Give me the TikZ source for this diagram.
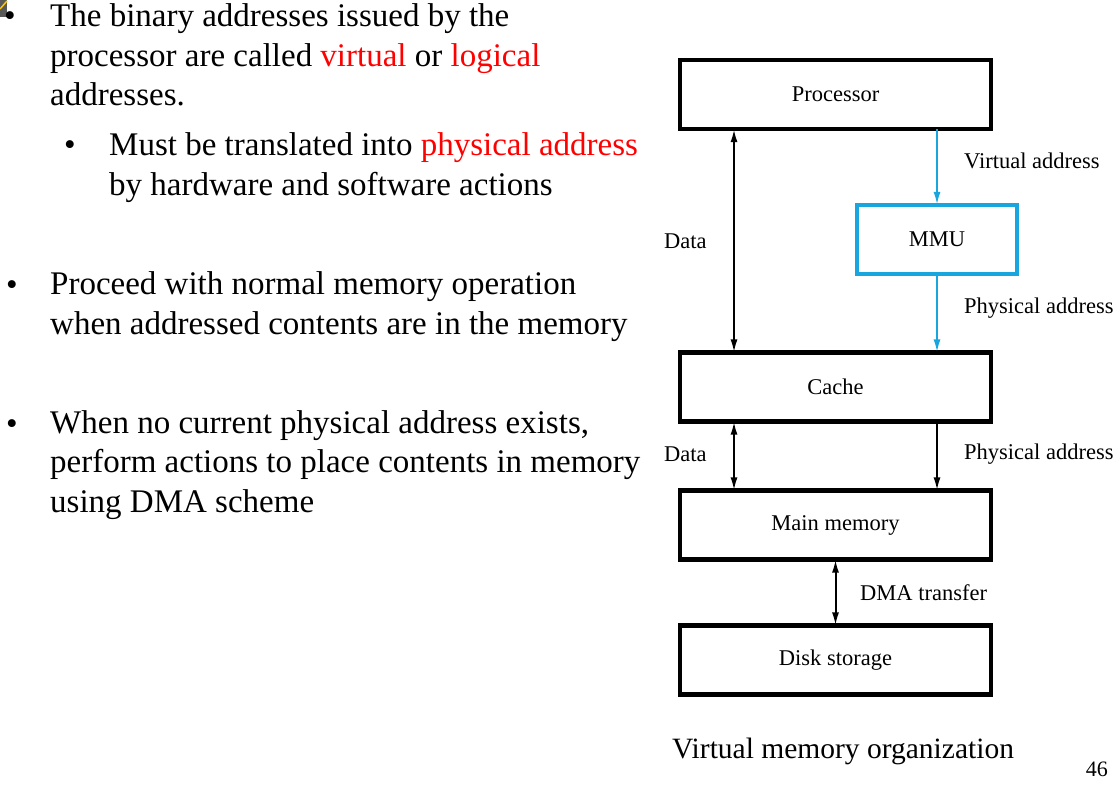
\documentclass[tikz,border=0pt]{standalone}
\usepackage{fontspec}
\setmainfont{Liberation Serif}
\usetikzlibrary{arrows.meta}
\definecolor{mmublue}{RGB}{25,165,222}
\definecolor{slidered}{RGB}{255,0,0}
\tikzset{
  box/.style={draw=black, line width=4.2pt, minimum width=311pt, minimum height=69pt, inner sep=0pt, font=\fontsize{22.5}{26}\selectfont},
  bluebox/.style={box, draw=mmublue, minimum width=160pt},
  conn/.style={line width=2pt, -{Latex[length=13pt,width=7pt]}},
  bconn/.style={line width=2pt, {Latex[length=13pt,width=7pt]}-{Latex[length=13pt,width=7pt]}},
  lbl/.style={anchor=west, inner sep=0pt, font=\fontsize{22.5}{26}\selectfont},
  para/.style={anchor=base west, inner sep=0pt, align=left, font=\fontsize{33}{39.5}\selectfont},
  bul/.style={anchor=base, inner sep=0pt, font=\fontsize{33}{39.5}\selectfont},
}
\begin{document}
\begin{tikzpicture}[x=1pt,y=-1pt]
\useasboundingbox (0,0) rectangle (1118,789);
% top-left artifact
\fill[gray!70!black] (0,0) rectangle (7,17);
\draw[yellow!60!orange, line width=1.5pt] (0,9) -- (7,1);
% left text (anchor = baseline of last line)
\node[bul] (b1) at (10,27) {•};
\node[para] (t1) at (50,106) {The binary addresses issued by the\\processor are called \textcolor{slidered}{virtual} or \textcolor{slidered}{logical}\\addresses.};
\node[bul] (b2) at (70,155) {•};
\node[para] (t2) at (109,195) {Must be translated into \textcolor{slidered}{physical address}\\by hardware and software actions};
\node[bul] (b3) at (12,295) {•};
\node[para] (t3) at (50,334) {Proceed with normal memory operation\\when addressed contents are in the memory};
\node[bul] (b4) at (12,434) {•};
\node[para] (t4) at (50,512) {When no current physical address exists,\\perform actions to place contents in memory\\using DMA scheme};
% diagram
\node[box] (proc) at (835.5,94.5) {Processor};
\node[bluebox] (mmu) at (937,239.5) {MMU};
\node[box] (cache) at (835.5,387) {Cache};
\node[box] (main) at (835.5,525) {Main memory};
\node[box] (disk) at (835.5,660) {Disk storage};
\coordinate (dx) at (734,0);
\draw[bconn] ([yshift=2pt]proc.south -| dx) -- ([yshift=-2pt]cache.north -| dx);
\draw[conn, draw=mmublue, fill=mmublue] ([yshift=2pt]proc.south -| mmu) -- ([yshift=-2pt]mmu.north);
\draw[conn, draw=mmublue, fill=mmublue] ([yshift=2pt]mmu.south) -- ([yshift=-2pt]cache.north -| mmu);
\draw[bconn] ([yshift=2pt]cache.south -| dx) -- ([yshift=-2pt]main.north -| dx);
\draw[conn] ([yshift=2pt]cache.south -| mmu) -- ([yshift=-2pt]main.north -| mmu);
\draw[bconn] ([yshift=2pt]main.south) -- ([yshift=-2pt]disk.north);
\node[lbl] (lva) at (964,161) {Virtual address};
\node[lbl] (ld1) at (664,241) {Data};
\node[lbl] (lpa1) at (964,308) {Physical address};
\node[lbl] (ld2) at (664,454) {Data};
\node[lbl] (lpa2) at (964,454) {Physical address};
\node[lbl] (ldma) at (860,593) {DMA transfer};
\node[anchor=west, inner sep=0pt, font=\fontsize{29.5}{34}\selectfont] (cap) at (672,751) {Virtual memory organization};
\node[anchor=east, inner sep=0pt, font=\fontsize{22}{26}\selectfont] (pg) at (1108,769) {46};
\end{tikzpicture}
\end{document}
